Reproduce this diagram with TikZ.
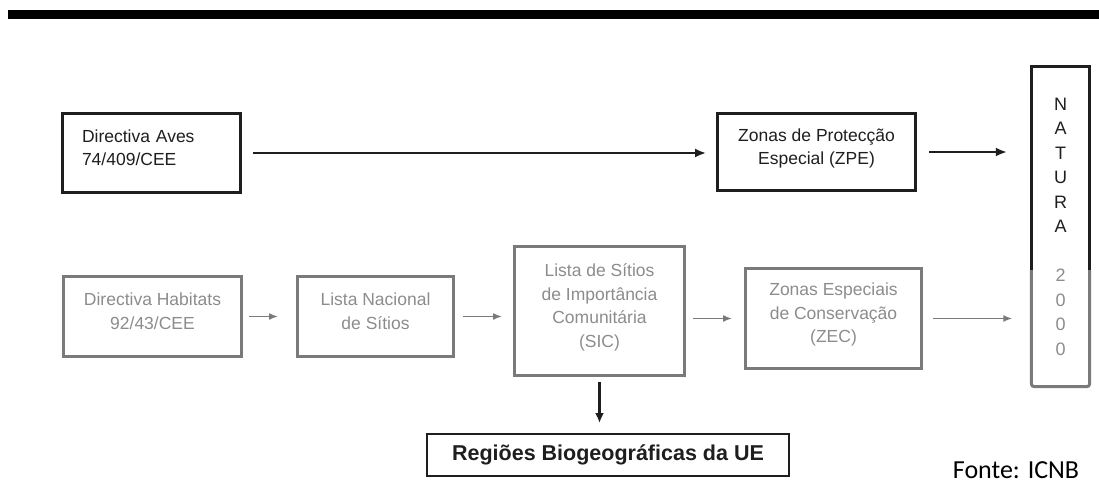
\documentclass[tikz,border=0pt]{standalone}
\usepackage{fontspec}
\setmainfont{Liberation Sans}
\newfontfamily\fontefont{Carlito}
\usetikzlibrary{arrows.meta}
\definecolor{ink}{HTML}{1E1E1E}
\definecolor{pale}{HTML}{7A7A7A}
\definecolor{paletext}{HTML}{8C8C8C}
\newcommand{\gr}[1]{\textcolor{paletext}{#1}}
\tikzset{
  darkbox/.style = {draw=ink, line width=3pt, text=ink, align=center, inner sep=0,
                    font=\fontsize{17.5}{23.5}\selectfont,
                    execute at end node={\rule[-11pt]{0pt}{11pt}}},
  palebox/.style = {draw=pale, line width=3pt, text=paletext, align=center, inner sep=0,
                    font=\fontsize{17.5}{23.5}\selectfont,
                    execute at end node={\rule[-11pt]{0pt}{11pt}}},
  darkarr/.style = {draw=ink, line width=2pt, -{Latex[length=11pt, width=9pt]}},
  palearr/.style = {draw=pale, line width=1.6pt, -{Latex[length=9pt, width=7pt]}}
}

\begin{document}
\begin{tikzpicture}[x=1pt, y=-1pt]
    \useasboundingbox (0, 0) rectangle (1099, 490);
    \fill [black] (8, 10) rectangle (1099, 19);

    \node [darkbox, minimum width=178pt, minimum height=79pt, text width=139pt,
           align=left, inner xsep=19.5pt] (aves) at (151.5, 153) {Directiva Aves\\74/409/CEE};
    \node [darkbox, minimum width=198pt, minimum height=77pt] (zpe) at (816.5, 152)
          {Zonas de Protecção\\Especial (ZPE)};

    \node [palebox, minimum width=178pt, minimum height=80pt] (habitats) at (152.5, 316.5)
          {Directiva Habitats\\92/43/CEE};
    \node [palebox, minimum width=156pt, minimum height=80pt] (nacional) at (375.5, 316.5)
          {Lista Nacional\\de Sítios};
    \node [palebox, minimum width=170pt, minimum height=129pt] (sic) at (599.5, 311)
          {Lista de Sítios\\de Importância\\Comunitária\\(SIC)};
    \node [palebox, minimum width=176pt, minimum height=100pt] (zec) at (833.5, 318.5)
          {Zonas Especiais\\de Conservação\\(ZEC)};

    \node [draw=ink, line width=2pt, minimum width=362pt, minimum height=42pt, text=ink,
           font=\bfseries\fontsize{21.5}{24}\selectfont]
          (regioes) at (608, 455) {Regiões Biogeográficas da UE};

    \node [inner sep=0, minimum width=58pt, minimum height=320pt, align=center, text=ink,
           font=\fontsize{18}{24.5}\selectfont] (natura) at (1060.5, 226.5)
          {N\\A\\T\\U\\R\\A\\[24.5pt]\gr{2}\\\gr{0}\\\gr{0}\\\gr{0}};
    \draw [ink, line width=3pt] (natura.west |- 0, 270) -- (natura.north west)
          -- (natura.north east) -- (natura.east |- 0, 270);
    \draw [pale, line width=3pt, rounded corners=3pt] (natura.west |- 0, 270)
          -- (natura.south west) -- (natura.south east) -- (natura.east |- 0, 270);

    \node [inner sep=0, font=\fontefont\fontsize{26}{30}\selectfont] (fonte) at (1016, 470)
          {Fonte: ICNB};

    \draw [darkarr, shorten <=11pt, shorten >=10pt] (aves) -- (aves -| zpe.west);
    \draw [darkarr, shorten <=12pt, shorten >=24.5pt] (zpe) -- (zpe -| natura.west);

    \draw [palearr, shorten <=6pt, shorten >=18pt] (habitats) -- (nacional);
    \draw [palearr, shorten <=8pt, shorten >=11pt] (nacional) -- (nacional -| sic.west);
    \draw [palearr, shorten <=7pt, shorten >=12pt] (sic.east |- zec) -- (zec);
    \draw [palearr, shorten <=10pt, shorten >=19pt] (zec) -- (zec -| natura.west);

    \draw [ink, line width=2.5pt, -{Latex[length=10pt, width=9pt]}, shorten <=5pt,
           shorten >=10pt] (sic) -- (sic |- regioes.north);
\end{tikzpicture}
\end{document}
